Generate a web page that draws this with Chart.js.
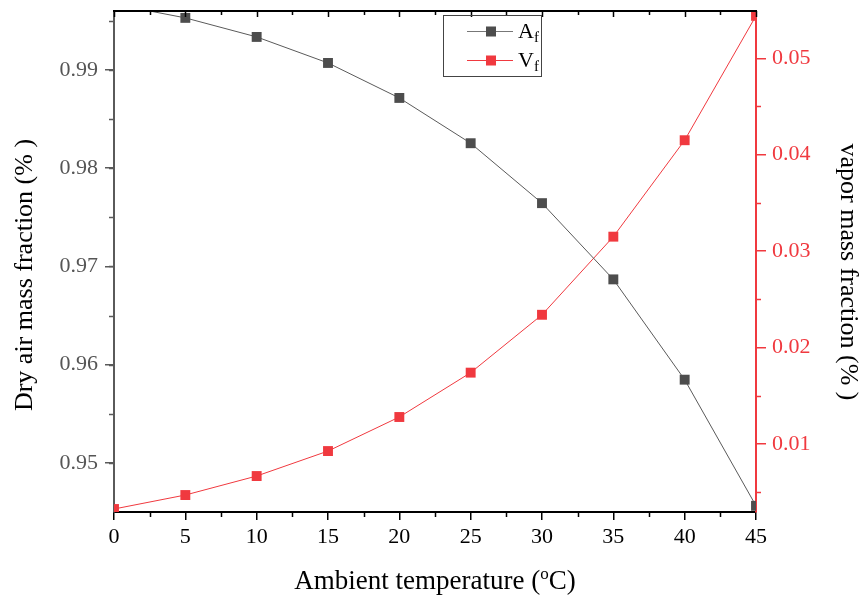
<!DOCTYPE html>
<html>
<head>
<meta charset="utf-8">
<script src="https://cdn.jsdelivr.net/npm/chart.js@4.4.1/dist/chart.umd.min.js"></script>
<style>
html,body{margin:0;padding:0;background:#fff;}
#wrap{width:861px;height:599px;position:relative;}
</style>
</head>
<body>
<div id="wrap"><canvas id="c" width="861" height="599"></canvas></div>
<script>
const temperatures = [0, 5, 10, 15, 20, 25, 30, 35, 40, 45];
const dryAirFraction = [0.9967, 0.9953, 0.99336, 0.99071, 0.98715, 0.98254, 0.97644, 0.96868, 0.95847, 0.94563];
const vaporFraction = [0.00326, 0.00471, 0.00668, 0.00927, 0.0128, 0.0174, 0.0234, 0.0315, 0.0415, 0.0544];
const xTickValues = [0, 5, 10, 15, 20, 25, 30, 35, 40, 45];
const leftTickValues = [0.95, 0.96, 0.97, 0.98, 0.99];
const rightTickValues = [0.01, 0.02, 0.03, 0.04, 0.05];
const seriesNames = ['A', 'V'];
const leftTitle = 'Dry air mass fraction (% )';
const rightTitle = 'vapor mass fraction (% )';

const GRAY = '#4d4d4d';
const LGRAY = '#5a5a5a';
const RED = '#f0393f';
const FONT = "'Liberation Serif', 'Times New Roman', serif";

const decorations = {
  id: 'decorations',
  afterDraw(chart) {
    const ctx = chart.ctx;
    const {x, y, y1} = chart.scales;
    const a = chart.chartArea;
    ctx.save();
    ctx.lineWidth = 1.5;
    ctx.strokeStyle = '#000';
    for (let v = 0; v <= 45.001; v += 2.5) {
      const px = Math.round(x.getPixelForValue(v)) + 0.5;
      const major = Math.abs(v % 5) < 1e-6;
      ctx.beginPath();
      if (!major) { ctx.moveTo(px, a.bottom); ctx.lineTo(px, a.bottom + 5); }
      ctx.moveTo(px, a.top); ctx.lineTo(px, a.top + (major ? 6 : 4));
      ctx.stroke();
    }
    ctx.strokeStyle = LGRAY;
    for (let v = 0.945; v <= 0.996; v += 0.005) {
      const py = Math.round(y.getPixelForValue(v)) + 0.5;
      if (py < a.top || py > a.bottom) continue;
      ctx.beginPath(); ctx.moveTo(a.left, py); ctx.lineTo(a.left - 5, py); ctx.stroke();
    }
    ctx.strokeStyle = RED;
    for (let v = 0.005; v <= 0.055; v += 0.01) {
      const py = Math.round(y1.getPixelForValue(v)) + 0.5;
      if (py < a.top || py > a.bottom) continue;
      ctx.beginPath(); ctx.moveTo(a.right, py); ctx.lineTo(a.right + 5, py); ctx.stroke();
    }
    ctx.strokeStyle = '#000';
    ctx.lineWidth = 2;
    ctx.beginPath(); ctx.moveTo(a.left - 1, a.top); ctx.lineTo(a.right + 1, a.top); ctx.stroke();

    // x title with superscript
    ctx.fillStyle = '#000';
    ctx.textBaseline = 'alphabetic';
    const base = 589;
    const fBig = '27px ' + FONT, fSmall = '17px ' + FONT;
    const t1 = 'Ambient temperature (', t2 = 'o', t3 = 'C)';
    ctx.font = fBig; const w1 = ctx.measureText(t1).width, w3 = ctx.measureText(t3).width;
    ctx.font = fSmall; const w2 = ctx.measureText(t2).width;
    let sx = (a.left + a.right) / 2 - (w1 + w2 + w3) / 2;
    ctx.font = fBig; ctx.fillText(t1, sx, base); sx += w1;
    ctx.font = fSmall; ctx.fillText(t2, sx, base - 10); sx += w2;
    ctx.font = fBig; ctx.fillText(t3, sx, base);

    // y titles
    ctx.font = '26px ' + FONT;
    ctx.textAlign = 'center'; ctx.textBaseline = 'middle';
    ctx.save(); ctx.translate(25, 275); ctx.rotate(-Math.PI / 2); ctx.fillText(leftTitle, 0, 0); ctx.restore();
    ctx.save(); ctx.translate(848, 272); ctx.rotate(Math.PI / 2); ctx.fillText(rightTitle, 0, 0); ctx.restore();
    ctx.textAlign = 'left'; ctx.textBaseline = 'alphabetic';

    // legend
    const bx = 443.5, by = 15.5, bw = 98, bh = 61;
    ctx.strokeStyle = '#444'; ctx.lineWidth = 1;
    ctx.strokeRect(bx, by, bw, bh);
    const entries = [
      {name: seriesNames[0], line: '#777', fill: GRAY, y: 31},
      {name: seriesNames[1], line: RED, fill: RED, y: 60}
    ];
    entries.forEach(e => {
      ctx.strokeStyle = e.line; ctx.lineWidth = 1;
      ctx.beginPath(); ctx.moveTo(467, e.y + 0.5); ctx.lineTo(513, e.y + 0.5); ctx.stroke();
      ctx.fillStyle = e.fill; ctx.fillRect(486, e.y - 4.5, 10, 10);
      ctx.fillStyle = '#000';
      ctx.font = '22px ' + FONT; ctx.fillText(e.name, 518, e.y + 7);
      const wn = ctx.measureText(e.name).width;
      ctx.font = '15px ' + FONT; ctx.fillText('f', 518 + wn, e.y + 11);
    });
    ctx.restore();
  }
};

function zeroPad(s) { s.paddingTop = 0; s.paddingBottom = 0; }

new Chart(document.getElementById('c'), {
  type: 'line',
  data: {
    datasets: [
      {
        label: 'Af',
        data: temperatures.map((t, i) => ({x: t, y: dryAirFraction[i]})),
        yAxisID: 'y',
        borderColor: LGRAY, borderWidth: 1,
        backgroundColor: GRAY,
        pointStyle: 'rect', pointRadius: 7, pointBorderWidth: 0,
        pointBackgroundColor: GRAY, tension: 0
      },
      {
        label: 'Vf',
        data: temperatures.map((t, i) => ({x: t, y: vaporFraction[i]})),
        yAxisID: 'y1',
        borderColor: RED, borderWidth: 1,
        backgroundColor: RED,
        pointStyle: 'rect', pointRadius: 7, pointBorderWidth: 0,
        pointBackgroundColor: RED, tension: 0
      }
    ]
  },
  options: {
    responsive: false,
    animation: false,
    layout: {padding: {top: 11, left: 0, right: 0, bottom: 0}},
    plugins: {legend: {display: false}, tooltip: {enabled: false}},
    scales: {
      x: {
        type: 'linear', min: 0, max: 45,
        afterFit(s) { s.height = 87; s.paddingLeft = 0; s.paddingRight = 0; },
        afterBuildTicks(s) { s.ticks = xTickValues.map(v => ({value: v})); },
        border: {color: '#000', width: 2},
        grid: {drawOnChartArea: false, color: '#000', tickLength: 8, lineWidth: 1.5},
        ticks: {color: '#000', font: {family: FONT, size: 22}, padding: 4, maxRotation: 0}
      },
      y: {
        position: 'left', min: 0.945, max: 0.996,
        afterFit(s) { s.width = 114; zeroPad(s); },
        afterBuildTicks(s) { s.ticks = leftTickValues.map(v => ({value: v})); },
        border: {color: LGRAY, width: 2},
        grid: {drawOnChartArea: false, color: LGRAY, tickLength: 9, lineWidth: 1.5},
        ticks: {color: '#555', font: {family: FONT, size: 22}, padding: 7, callback: v => v.toFixed(2)}
      },
      y1: {
        position: 'right', min: 0.00295, max: 0.0549,
        afterFit(s) { s.width = 105; zeroPad(s); },
        afterBuildTicks(s) { s.ticks = rightTickValues.map(v => ({value: v})); },
        border: {color: RED, width: 2},
        grid: {drawOnChartArea: false, color: RED, tickLength: 10, lineWidth: 1.5},
        ticks: {color: RED, font: {family: FONT, size: 22}, padding: 6, callback: v => v.toFixed(2)}
      }
    }
  },
  plugins: [decorations]
});
</script>
</body>
</html>
